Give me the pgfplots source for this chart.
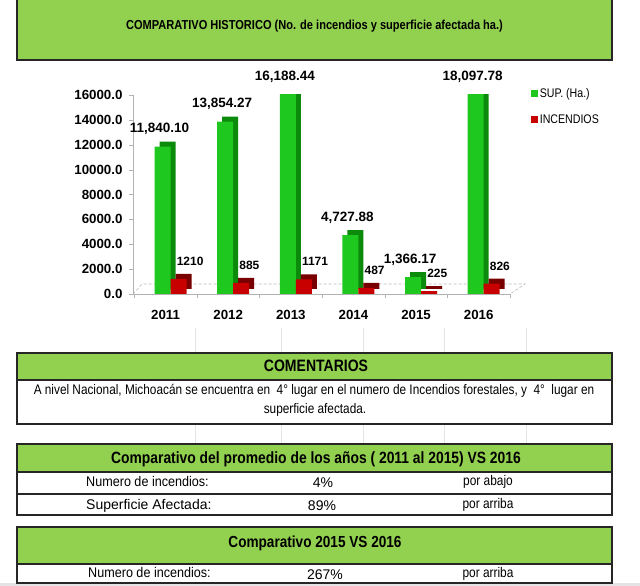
\documentclass[border=0pt]{standalone}
\usepackage{fontspec}
\setmainfont{Liberation Sans}
\newfontfamily\narrow[FakeStretch=0.85]{Liberation Sans}
\newfontfamily\semi[FakeStretch=0.9]{Liberation Sans}
\usepackage{pgfplots}
\pgfplotsset{compat=1.18}
\usepackage{pgfplotstable}
\definecolor{xlgreen}{HTML}{92D050}
\definecolor{grnF}{HTML}{1FC81F}
\definecolor{grnS}{HTML}{0B8A0B}
\definecolor{redF}{HTML}{C80000}
\definecolor{redS}{HTML}{780000}

\pgfplotstableread{
x sup inc
0 11840.10 1210
1 13854.27 885
2 16188.44 1171
3 4727.88 487
4 1366.17 225
5 18097.78 826
}\datatable

\begin{document}
\begin{tikzpicture}[x=1pt,y=1pt]
\path[use as bounding box] (0,0) rectangle (640,586);
% title box
\fill[xlgreen] (17,526) rectangle (612,590);
\draw[line width=1.6pt, black!85] (17,590) -- (17,526) -- (612,526) -- (612,590);
\node[anchor=base, inner sep=0] at (314.5,556.5) {\narrow\bfseries\fontsize{13}{13}\selectfont COMPARATIVO HISTORICO (No. de incendios y superficie afectada ha.)};

% floor (3D base)
\draw[gray!55, densely dashed, line width=0.6pt] (133,292) -- (142,302) -- (525,302) -- (510,292);

\begin{axis}[
  at={(133pt,292pt)}, anchor=south west,
  scale only axis, width=377pt, height=199pt,
  xmin=-0.52, xmax=5.5, ymin=0, ymax=16000,
  axis x line*=bottom, axis y line*=left,
  axis line style={draw=gray!60, line width=0.6pt},
  xtick={0,...,5}, xticklabels={2011,2012,2013,2014,2015,2016},
  minor xtick={-0.5,0.5,...,5.5},
  major x tick style={draw=none},
  minor x tick style={draw=gray!60},
  minor tick length=4pt,
  ytick={0,2000,...,16000},
  scaled y ticks=false,
  y tick style={draw=gray!60},
  major tick length=4pt,
  tick align=outside,
  /pgf/number format/assume math mode=true,
  yticklabel={\pgfmathprintnumber[fixed,fixed zerofill,precision=1,1000 sep={}]{\tick}},
  yticklabel style={font=\bfseries\fontsize{13.3}{13.3}\selectfont, xshift=-3pt},
  xticklabel style={font=\bfseries\fontsize{13.3}{13.3}\selectfont, yshift=-9pt},
  legend style={at={(1.048,1.055)}, anchor=north west, draw=none, fill=none,
     row sep=12pt, font=\narrow\fontsize{12.5}{12.5}\selectfont},
  legend cell align=left,
]
\addplot[ybar, bar width=16pt, bar shift=-3pt, fill=grnS, draw=none, xshift=5pt, yshift=5pt, forget plot]
  table[x=x,y=sup]{\datatable};
\addplot[ybar, bar width=16pt, bar shift=-3pt, fill=grnF, draw=none,
  legend image code/.code={\fill[grnF] (0pt,-3pt) rectangle (6.5pt,3.5pt);}]
  table[x=x,y=sup]{\datatable};
\addlegendentry{SUP. (Ha.)}
\addplot[ybar, bar width=16pt, bar shift=13pt, fill=redS, draw=none, xshift=5pt, yshift=5pt, forget plot]
  table[x=x,y=inc]{\datatable};
\addplot[ybar, bar width=16pt, bar shift=13pt, fill=redF, draw=none,
  legend image code/.code={\fill[redF] (0pt,-3pt) rectangle (6.5pt,3.5pt);}]
  table[x=x,y=inc]{\datatable};
\addlegendentry{INCENDIOS}
% value labels
\addplot[only marks, mark=none, forget plot,
  point meta=explicit,
  nodes near coords={\pgfmathprintnumber[fixed,fixed zerofill,precision=2,1000 sep={,}]{\pgfplotspointmeta}},
  every node near coord/.append style={anchor=base, xshift=-6pt, yshift=14pt, inner sep=0pt,
     font=\bfseries\fontsize{13.5}{13.5}\selectfont}]
  table[x=x, y expr={min(\thisrow{sup},16000)}, meta=sup]{\datatable};
\addplot[only marks, mark=none, forget plot,
  point meta=explicit,
  nodes near coords={\pgfmathprintnumber[fixed,precision=0,1000 sep={}]{\pgfplotspointmeta}},
  every node near coord/.append style={anchor=base west, xshift=11pt, yshift=13.5pt, inner sep=0pt,
     font=\bfseries\fontsize{12}{12}\selectfont}]
  table[x=x, y=inc, meta=inc]{\datatable};
\end{axis}

% faint spreadsheet cell lines
\foreach \xx in {195,281,363,444,526} {
  \draw[gray!20, line width=0.6pt] (\xx,233) -- (\xx,258);
  \draw[gray!20, line width=0.6pt] (\xx,142) -- (\xx,162);
}

% COMENTARIOS
\fill[xlgreen] (17,206) rectangle (612,233);
\draw[line width=1.4pt, black!85] (17,162) rectangle (612,233);
\draw[line width=1.4pt, black!85] (17,206) -- (612,206);
\node[anchor=base, inner sep=0] at (316,214) {\narrow\bfseries\fontsize{16.5}{16.5}\selectfont COMENTARIOS};
\node[anchor=base, inner sep=0] at (314,191) {\narrow\fontsize{13.9}{13.9}\selectfont A nivel Nacional, Michoacán se encuentra en\ \ 4° lugar en el numero de Incendios forestales, y\ \ 4°\ \ lugar en};
\node[anchor=base, inner sep=0] at (315,172.5) {\narrow\fontsize{13.9}{13.9}\selectfont superficie afectada.};

% Table 2
\fill[xlgreen] (17,114) rectangle (612,142);
\draw[line width=1.4pt, black!85] (17,71) rectangle (612,142);
\draw[line width=1.4pt, black!85] (17,114) -- (612,114);
\draw[line width=1.4pt, black!85] (17,92) -- (612,92);
\node[anchor=base, inner sep=0] at (316,122) {\narrow\bfseries\fontsize{16.3}{16.3}\selectfont Comparativo del promedio de los años ( 2011 al 2015) VS 2016};
\node[anchor=base west, inner sep=0] at (86,99) {\semi\fontsize{14}{14}\selectfont Numero de incendios:};
\node[anchor=base, inner sep=0] at (323,98) {\fontsize{14}{14}\selectfont 4\%};
\node[anchor=base, inner sep=0] at (488,100) {\narrow\fontsize{14}{14}\selectfont por abajo};
\node[anchor=base west, inner sep=0] at (86,76) {\fontsize{14}{14}\selectfont Superficie Afectada:};
\node[anchor=base, inner sep=0] at (322,75) {\fontsize{14}{14}\selectfont 89\%};
\node[anchor=base, inner sep=0] at (488,77) {\narrow\fontsize{14}{14}\selectfont por arriba};

% Table 3
\fill[gray!22] (0,0) rectangle (640,2.5);
\fill[xlgreen] (17,22) rectangle (612,59);
\draw[line width=1.4pt, black!85] (17,3) rectangle (612,59);
\draw[line width=1.4pt, black!85] (17,22) -- (612,22);
\node[anchor=base, inner sep=0] at (315,38) {\narrow\bfseries\fontsize{16}{16}\selectfont Comparativo 2015 VS 2016};
\node[anchor=base west, inner sep=0] at (88,8) {\semi\fontsize{14}{14}\selectfont Numero de incendios:};
\node[anchor=base, inner sep=0] at (325,6) {\fontsize{14}{14}\selectfont 267\%};
\node[anchor=base, inner sep=0] at (488,8) {\narrow\fontsize{14}{14}\selectfont por arriba};
\end{tikzpicture}
\end{document}
